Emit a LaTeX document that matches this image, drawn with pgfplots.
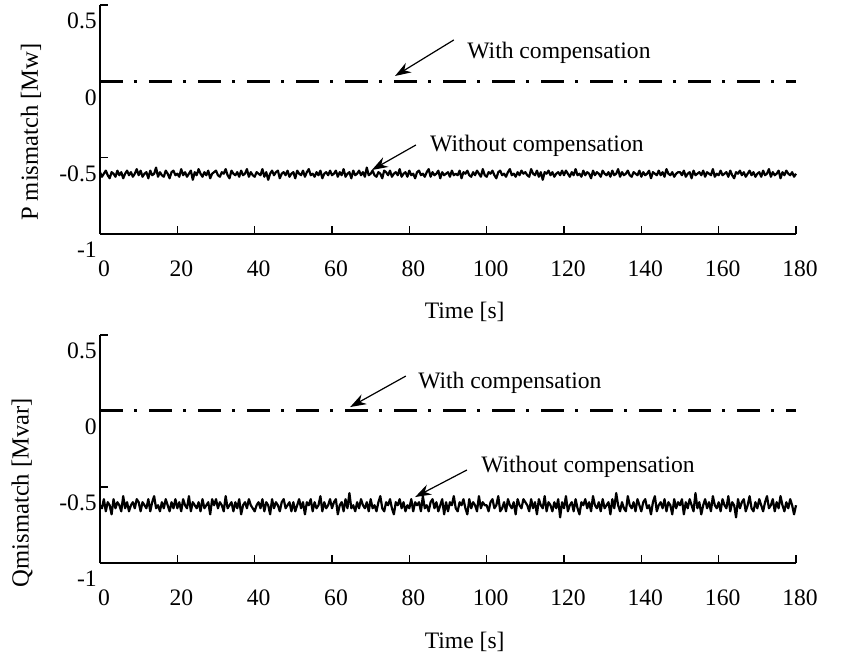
\documentclass[border=0pt]{standalone}
\usepackage{fontspec}
\setmainfont{Liberation Serif}
\usepackage{pgfplots}
\pgfplotsset{compat=1.18}
\usetikzlibrary{arrows.meta}

\tikzset{arr/.style={-{Stealth[length=8pt,width=5.5pt]}, line width=0.6pt, black}}
\pgfplotsset{
  myaxis/.style={
    scale only axis, width=348pt,
    xmin=0, xmax=180, ymin=-1, ymax=0.5,
    axis x line=bottom, axis y line=left,
    axis line style={-, line width=0.7pt, black},
    xtick={0,20,...,180}, ytick={-1,-0.5,0,0.5},
    yticklabels={-1,-0.5,0,0.5},
    tick align=inside, major tick length=4pt,
    tick style={black, line width=0.7pt},
    /pgf/number format/assume math mode=true,
    xticklabel style={yshift=-9.5pt, xshift=2pt},
    yticklabel style={yshift=-8pt, xshift=2.5pt},
    clip=false,
  },
  comp/.style={black, line width=1.5pt, dash pattern=on 11.5pt off 5.5pt on 1.5pt off 6pt},
  noise/.style={black, line width=1.1pt, line join=round},
}

\begin{document}
\fontsize{11.8}{14}\selectfont
\begin{tikzpicture}
\path[use as bounding box] (0,0) rectangle (428.5pt,-328.5pt);

\begin{axis}[myaxis, height=114.5pt, at={(50pt,-117pt)}, anchor=south west,
  every axis y label/.style={at={(axis description cs:-0.0991,0.445)}, rotate=90, anchor=center, font=\fontsize{12.3}{14}\selectfont},
  every axis x label/.style={at={(axis description cs:0.524,-0.34)}, anchor=center},
  ylabel={P mismatch [Mw]}, xlabel={Time [s]}]
\addplot[comp] coordinates {(0,0)(180,0)};
\addplot[noise] coordinates {
(0,-0.595)(0.5,-0.625)(1,-0.605)(1.5,-0.585)(2,-0.615)(2.5,-0.635)(3,-0.595)(3.5,-0.605)(4,-0.625)(4.5,-0.585)(5,-0.615)(5.5,-0.595)(6,-0.635)(6.5,-0.605)(7,-0.585)(7.5,-0.615)(8,-0.595)(8.5,-0.625)(9,-0.605)(9.5,-0.575)
(10,-0.615)(10.5,-0.585)(11,-0.625)(11.5,-0.605)(12,-0.595)(12.5,-0.635)(13,-0.585)(13.5,-0.615)(14,-0.605)(14.5,-0.565)(15,-0.625)(15.5,-0.595)(16,-0.615)(16.5,-0.625)(17,-0.585)(17.5,-0.605)(18,-0.635)(18.5,-0.595)(19,-0.585)(19.5,-0.615)
(20,-0.605)(20.5,-0.625)(21,-0.575)(21.5,-0.615)(22,-0.595)(22.5,-0.625)(23,-0.605)(23.5,-0.585)(24,-0.645)(24.5,-0.595)(25,-0.615)(25.5,-0.575)(26,-0.605)(26.5,-0.625)(27,-0.595)(27.5,-0.615)(28,-0.585)(28.5,-0.635)(29,-0.605)(29.5,-0.595)
(30,-0.585)(30.5,-0.615)(31,-0.625)(31.5,-0.595)(32,-0.605)(32.5,-0.575)(33,-0.615)(33.5,-0.635)(34,-0.585)(34.5,-0.605)(35,-0.615)(35.5,-0.595)(36,-0.625)(36.5,-0.585)(37,-0.615)(37.5,-0.605)(38,-0.575)(38.5,-0.625)(39,-0.595)(39.5,-0.615)
(40,-0.625)(40.5,-0.595)(41,-0.605)(41.5,-0.615)(42,-0.575)(42.5,-0.625)(43,-0.595)(43.5,-0.645)(44,-0.605)(44.5,-0.585)(45,-0.615)(45.5,-0.595)(46,-0.585)(46.5,-0.635)(47,-0.605)(47.5,-0.595)(48,-0.615)(48.5,-0.585)(49,-0.625)(49.5,-0.605)
(50,-0.595)(50.5,-0.635)(51,-0.585)(51.5,-0.605)(52,-0.615)(52.5,-0.585)(53,-0.625)(53.5,-0.595)(54,-0.575)(54.5,-0.615)(55,-0.605)(55.5,-0.625)(56,-0.595)(56.5,-0.615)(57,-0.585)(57.5,-0.635)(58,-0.605)(58.5,-0.595)(59,-0.615)(59.5,-0.585)
(60,-0.615)(60.5,-0.605)(61,-0.585)(61.5,-0.625)(62,-0.595)(62.5,-0.615)(63,-0.575)(63.5,-0.625)(64,-0.605)(64.5,-0.595)(65,-0.635)(65.5,-0.585)(66,-0.615)(66.5,-0.605)(67,-0.585)(67.5,-0.615)(68,-0.595)(68.5,-0.625)(69,-0.565)(69.5,-0.615)
(70,-0.605)(70.5,-0.585)(71,-0.615)(71.5,-0.625)(72,-0.595)(72.5,-0.605)(73,-0.635)(73.5,-0.585)(74,-0.595)(74.5,-0.615)(75,-0.585)(75.5,-0.625)(76,-0.605)(76.5,-0.595)(77,-0.615)(77.5,-0.575)(78,-0.625)(78.5,-0.605)(79,-0.595)(79.5,-0.625)
(80,-0.585)(80.5,-0.615)(81,-0.605)(81.5,-0.635)(82,-0.595)(82.5,-0.585)(83,-0.615)(83.5,-0.605)(84,-0.625)(84.5,-0.595)(85,-0.575)(85.5,-0.625)(86,-0.595)(86.5,-0.615)(87,-0.605)(87.5,-0.585)(88,-0.635)(88.5,-0.595)(89,-0.615)(89.5,-0.605)
(90,-0.595)(90.5,-0.625)(91,-0.585)(91.5,-0.615)(92,-0.605)(92.5,-0.615)(93,-0.585)(93.5,-0.635)(94,-0.595)(94.5,-0.605)(95,-0.585)(95.5,-0.615)(96,-0.625)(96.5,-0.595)(97,-0.615)(97.5,-0.585)(98,-0.605)(98.5,-0.625)(99,-0.575)(99.5,-0.615)
(100,-0.625)(100.5,-0.595)(101,-0.605)(101.5,-0.585)(102,-0.615)(102.5,-0.635)(103,-0.595)(103.5,-0.585)(104,-0.615)(104.5,-0.605)(105,-0.625)(105.5,-0.595)(106,-0.575)(106.5,-0.615)(107,-0.605)(107.5,-0.625)(108,-0.595)(108.5,-0.615)(109,-0.585)(109.5,-0.605)
(110,-0.595)(110.5,-0.615)(111,-0.625)(111.5,-0.575)(112,-0.605)(112.5,-0.615)(113,-0.585)(113.5,-0.625)(114,-0.595)(114.5,-0.645)(115,-0.595)(115.5,-0.605)(116,-0.585)(116.5,-0.615)(117,-0.595)(117.5,-0.625)(118,-0.605)(118.5,-0.595)(119,-0.615)(119.5,-0.585)
(120,-0.615)(120.5,-0.585)(121,-0.605)(121.5,-0.625)(122,-0.595)(122.5,-0.615)(123,-0.575)(123.5,-0.615)(124,-0.605)(124.5,-0.625)(125,-0.585)(125.5,-0.615)(126,-0.595)(126.5,-0.605)(127,-0.635)(127.5,-0.585)(128,-0.615)(128.5,-0.595)(129,-0.605)(129.5,-0.625)
(130,-0.585)(130.5,-0.605)(131,-0.615)(131.5,-0.595)(132,-0.625)(132.5,-0.585)(133,-0.615)(133.5,-0.605)(134,-0.575)(134.5,-0.625)(135,-0.595)(135.5,-0.615)(136,-0.605)(136.5,-0.585)(137,-0.615)(137.5,-0.625)(138,-0.595)(138.5,-0.605)(139,-0.615)(139.5,-0.585)
(140,-0.625)(140.5,-0.595)(141,-0.615)(141.5,-0.605)(142,-0.585)(142.5,-0.635)(143,-0.595)(143.5,-0.605)(144,-0.615)(144.5,-0.585)(145,-0.615)(145.5,-0.595)(146,-0.625)(146.5,-0.575)(147,-0.605)(147.5,-0.615)(148,-0.595)(148.5,-0.625)(149,-0.605)(149.5,-0.595)
(150,-0.595)(150.5,-0.615)(151,-0.585)(151.5,-0.625)(152,-0.605)(152.5,-0.595)(153,-0.635)(153.5,-0.585)(154,-0.615)(154.5,-0.605)(155,-0.595)(155.5,-0.615)(156,-0.585)(156.5,-0.625)(157,-0.595)(157.5,-0.605)(158,-0.615)(158.5,-0.575)(159,-0.625)(159.5,-0.605)
(160,-0.615)(160.5,-0.585)(161,-0.615)(161.5,-0.605)(162,-0.595)(162.5,-0.625)(163,-0.585)(163.5,-0.615)(164,-0.635)(164.5,-0.595)(165,-0.605)(165.5,-0.585)(166,-0.615)(166.5,-0.595)(167,-0.625)(167.5,-0.605)(168,-0.585)(168.5,-0.615)(169,-0.595)(169.5,-0.625)
(170,-0.605)(170.5,-0.595)(171,-0.625)(171.5,-0.585)(172,-0.615)(172.5,-0.605)(173,-0.575)(173.5,-0.625)(174,-0.595)(174.5,-0.615)(175,-0.605)(175.5,-0.585)(176,-0.635)(176.5,-0.595)(177,-0.615)(177.5,-0.585)(178,-0.605)(178.5,-0.615)(179,-0.595)(179.5,-0.625)
(180,-0.605)
};
\node at (axis cs:118.7,0.186) {With compensation};
\draw[arr] (axis cs:91.5,0.271) -- (axis cs:76.3,0.035);
\node at (axis cs:113.0,-0.424) {Without compensation};
\draw[arr] (axis cs:81.7,-0.417) -- (axis cs:70.3,-0.581);
\end{axis}

\begin{axis}[myaxis, height=114pt, at={(50pt,-281.5pt)}, anchor=south west,
  every axis y label/.style={at={(axis description cs:-0.112,0.309)}, rotate=90, anchor=center, font=\fontsize{12.3}{14}\selectfont},
  every axis x label/.style={at={(axis description cs:0.524,-0.346)}, anchor=center},
  ylabel={Qmismatch [Mvar]}, xlabel={Time [s]}]
\addplot[comp] coordinates {(0,0)(180,0)};
\addplot[noise] coordinates {
(0,-0.62)(0.5,-0.64)(1,-0.58)(1.5,-0.66)(2,-0.60)(2.5,-0.62)(3,-0.68)(3.5,-0.58)(4,-0.64)(4.5,-0.60)(5,-0.62)(5.5,-0.66)(6,-0.56)(6.5,-0.64)(7,-0.60)(7.5,-0.66)(8,-0.62)(8.5,-0.60)(9,-0.64)(9.5,-0.58)
(10,-0.60)(10.5,-0.66)(11,-0.60)(11.5,-0.62)(12,-0.64)(12.5,-0.58)(13,-0.66)(13.5,-0.60)(14,-0.56)(14.5,-0.64)(15,-0.62)(15.5,-0.66)(16,-0.60)(16.5,-0.64)(17,-0.58)(17.5,-0.62)(18,-0.66)(18.5,-0.60)(19,-0.64)(19.5,-0.58)
(20,-0.64)(20.5,-0.60)(21,-0.66)(21.5,-0.58)(22,-0.62)(22.5,-0.64)(23,-0.56)(23.5,-0.66)(24,-0.60)(24.5,-0.62)(25,-0.64)(25.5,-0.60)(26,-0.66)(26.5,-0.58)(27,-0.64)(27.5,-0.62)(28,-0.60)(28.5,-0.68)(29,-0.58)(29.5,-0.62)
(30,-0.58)(30.5,-0.64)(31,-0.60)(31.5,-0.62)(32,-0.66)(32.5,-0.56)(33,-0.64)(33.5,-0.62)(34,-0.60)(34.5,-0.66)(35,-0.60)(35.5,-0.64)(36,-0.58)(36.5,-0.68)(37,-0.62)(37.5,-0.60)(38,-0.64)(38.5,-0.58)(39,-0.62)(39.5,-0.64)
(40,-0.66)(40.5,-0.62)(41,-0.60)(41.5,-0.64)(42,-0.58)(42.5,-0.66)(43,-0.60)(43.5,-0.62)(44,-0.68)(44.5,-0.58)(45,-0.64)(45.5,-0.60)(46,-0.62)(46.5,-0.66)(47,-0.60)(47.5,-0.58)(48,-0.64)(48.5,-0.62)(49,-0.60)(49.5,-0.66)
(50,-0.60)(50.5,-0.66)(51,-0.62)(51.5,-0.58)(52,-0.64)(52.5,-0.60)(53,-0.68)(53.5,-0.60)(54,-0.62)(54.5,-0.58)(55,-0.66)(55.5,-0.60)(56,-0.64)(56.5,-0.62)(57,-0.56)(57.5,-0.66)(58,-0.60)(58.5,-0.64)(59,-0.62)(59.5,-0.58)
(60,-0.64)(60.5,-0.60)(61,-0.58)(61.5,-0.68)(62,-0.62)(62.5,-0.60)(63,-0.66)(63.5,-0.58)(64,-0.64)(64.5,-0.54)(65,-0.64)(65.5,-0.62)(66,-0.66)(66.5,-0.60)(67,-0.64)(67.5,-0.58)(68,-0.62)(68.5,-0.64)(69,-0.60)(69.5,-0.66)
(70,-0.58)(70.5,-0.64)(71,-0.62)(71.5,-0.66)(72,-0.60)(72.5,-0.56)(73,-0.64)(73.5,-0.66)(74,-0.60)(74.5,-0.62)(75,-0.58)(75.5,-0.64)(76,-0.68)(76.5,-0.60)(77,-0.62)(77.5,-0.58)(78,-0.64)(78.5,-0.60)(79,-0.66)(79.5,-0.62)
(80,-0.64)(80.5,-0.58)(81,-0.66)(81.5,-0.60)(82,-0.62)(82.5,-0.60)(83,-0.66)(83.5,-0.56)(84,-0.64)(84.5,-0.62)(85,-0.66)(85.5,-0.60)(86,-0.58)(86.5,-0.64)(87,-0.60)(87.5,-0.66)(88,-0.62)(88.5,-0.58)(89,-0.68)(89.5,-0.60)
(90,-0.66)(90.5,-0.60)(91,-0.62)(91.5,-0.56)(92,-0.64)(92.5,-0.66)(93,-0.60)(93.5,-0.62)(94,-0.58)(94.5,-0.64)(95,-0.68)(95.5,-0.58)(96,-0.64)(96.5,-0.60)(97,-0.62)(97.5,-0.66)(98,-0.56)(98.5,-0.64)(99,-0.60)(99.5,-0.62)
(100,-0.62)(100.5,-0.66)(101,-0.60)(101.5,-0.58)(102,-0.64)(102.5,-0.62)(103,-0.56)(103.5,-0.66)(104,-0.64)(104.5,-0.60)(105,-0.66)(105.5,-0.58)(106,-0.62)(106.5,-0.64)(107,-0.60)(107.5,-0.68)(108,-0.58)(108.5,-0.62)(109,-0.64)(109.5,-0.58)
(110,-0.60)(110.5,-0.62)(111,-0.66)(111.5,-0.58)(112,-0.64)(112.5,-0.60)(113,-0.68)(113.5,-0.58)(114,-0.62)(114.5,-0.64)(115,-0.56)(115.5,-0.66)(116,-0.60)(116.5,-0.62)(117,-0.66)(117.5,-0.60)(118,-0.64)(118.5,-0.58)(119,-0.70)(119.5,-0.60)
(120,-0.64)(120.5,-0.56)(121,-0.66)(121.5,-0.62)(122,-0.60)(122.5,-0.66)(123,-0.58)(123.5,-0.64)(124,-0.68)(124.5,-0.60)(125,-0.62)(125.5,-0.58)(126,-0.64)(126.5,-0.60)(127,-0.66)(127.5,-0.56)(128,-0.62)(128.5,-0.64)(129,-0.60)(129.5,-0.66)
(130,-0.58)(130.5,-0.64)(131,-0.62)(131.5,-0.60)(132,-0.68)(132.5,-0.58)(133,-0.64)(133.5,-0.54)(134,-0.62)(134.5,-0.66)(135,-0.60)(135.5,-0.64)(136,-0.66)(136.5,-0.56)(137,-0.62)(137.5,-0.64)(138,-0.60)(138.5,-0.66)(139,-0.58)(139.5,-0.62)
(140,-0.66)(140.5,-0.60)(141,-0.58)(141.5,-0.64)(142,-0.62)(142.5,-0.68)(143,-0.60)(143.5,-0.56)(144,-0.66)(144.5,-0.62)(145,-0.60)(145.5,-0.64)(146,-0.58)(146.5,-0.66)(147,-0.60)(147.5,-0.62)(148,-0.68)(148.5,-0.58)(149,-0.64)(149.5,-0.60)
(150,-0.62)(150.5,-0.58)(151,-0.68)(151.5,-0.60)(152,-0.64)(152.5,-0.58)(153,-0.62)(153.5,-0.66)(154,-0.54)(154.5,-0.64)(155,-0.60)(155.5,-0.68)(156,-0.62)(156.5,-0.58)(157,-0.64)(157.5,-0.60)(158,-0.66)(158.5,-0.56)(159,-0.62)(159.5,-0.64)
(160,-0.60)(160.5,-0.66)(161,-0.58)(161.5,-0.62)(162,-0.64)(162.5,-0.56)(163,-0.66)(163.5,-0.60)(164,-0.62)(164.5,-0.70)(165,-0.58)(165.5,-0.64)(166,-0.60)(166.5,-0.58)(167,-0.66)(167.5,-0.62)(168,-0.56)(168.5,-0.64)(169,-0.66)(169.5,-0.60)
(170,-0.64)(170.5,-0.58)(171,-0.62)(171.5,-0.66)(172,-0.60)(172.5,-0.56)(173,-0.64)(173.5,-0.62)(174,-0.58)(174.5,-0.66)(175,-0.60)(175.5,-0.64)(176,-0.56)(176.5,-0.62)(177,-0.66)(177.5,-0.60)(178,-0.64)(178.5,-0.58)(179,-0.62)(179.5,-0.68)
(180,-0.62)
};
\node at (axis cs:106.0,0.184) {With compensation};
\draw[arr] (axis cs:79.1,0.230) -- (axis cs:64.7,0.026);
\node at (axis cs:126.2,-0.368) {Without compensation};
\draw[arr] (axis cs:94.9,-0.388) -- (axis cs:81.5,-0.566);
\end{axis}
\end{tikzpicture}
\end{document}
